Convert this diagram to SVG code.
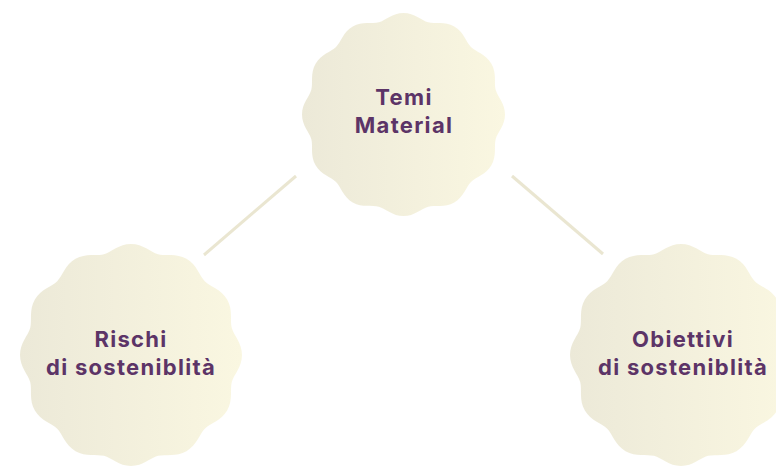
<svg xmlns="http://www.w3.org/2000/svg" width="776" height="466" viewBox="0 0 776 466">
<style>
.lbl{font-family:Inter,"Open Sans","Liberation Sans",sans-serif;font-weight:700;font-size:22px;fill:#5C3467;text-anchor:middle;letter-spacing:1.3px}
.conn{stroke:#EAE6D1;stroke-width:3;fill:none}
</style>
<defs>
<linearGradient id="g" x1="0" y1="0" x2="1" y2="0">
<stop offset="0" stop-color="#ECE9D8"/>
<stop offset="1" stop-color="#FAF7E1"/>
</linearGradient>
<path id="badge" fill="url(#g)" d="M0,-100 C11,-100 17.568,-92.609 24.329,-90.797 C31.090,-88.985 40.474,-92.103 50,-86.603 C59.526,-81.103 61.518,-71.418 66.468,-66.468 C71.418,-61.518 81.103,-59.526 86.603,-50 C92.103,-40.474 88.985,-31.090 90.797,-24.329 C92.609,-17.568 100,-11 100,0 C100,11 92.609,17.568 90.797,24.329 C88.985,31.090 92.103,40.474 86.603,50 C81.103,59.526 71.418,61.518 66.468,66.468 C61.518,71.418 59.526,81.103 50,86.603 C40.474,92.103 31.090,88.985 24.329,90.797 C17.568,92.609 11,100 0,100 C-11,100 -17.568,92.609 -24.329,90.797 C-31.090,88.985 -40.474,92.103 -50,86.603 C-59.526,81.103 -61.518,71.418 -66.468,66.468 C-71.418,61.518 -81.103,59.526 -86.603,50 C-92.103,40.474 -88.985,31.090 -90.797,24.329 C-92.609,17.568 -100,11 -100,0 C-100,-11 -92.609,-17.568 -90.797,-24.329 C-88.985,-31.090 -92.103,-40.474 -86.603,-50 C-81.103,-59.526 -71.418,-61.518 -66.468,-66.468 C-61.518,-71.418 -59.526,-81.103 -50,-86.603 C-40.474,-92.103 -31.090,-88.985 -24.329,-90.797 C-17.568,-92.609 -11,-100 0,-100 Z"/>
</defs>
<g id="connectors">
<line class="conn" x1="296" y1="176" x2="204" y2="255"/>
<line class="conn" x1="512" y1="176" x2="603" y2="254"/>
</g>
<g id="temi">
<use href="#badge" transform="translate(403.5,114.5) scale(1.015)"/>
<text class="lbl" x="404" y="105">Temi</text>
<text class="lbl" x="404" y="133">Material</text>
</g>
<g id="rischi">
<use href="#badge" transform="translate(131,355) scale(1.11)"/>
<text class="lbl" x="131" y="347">Rischi</text>
<text class="lbl" x="131" y="375">di sosteniblità</text>
</g>
<g id="obiettivi">
<use href="#badge" transform="translate(681,355) scale(1.11)"/>
<text class="lbl" x="683" y="347">Obiettivi</text>
<text class="lbl" x="683" y="375">di sosteniblità</text>
</g>
</svg>
